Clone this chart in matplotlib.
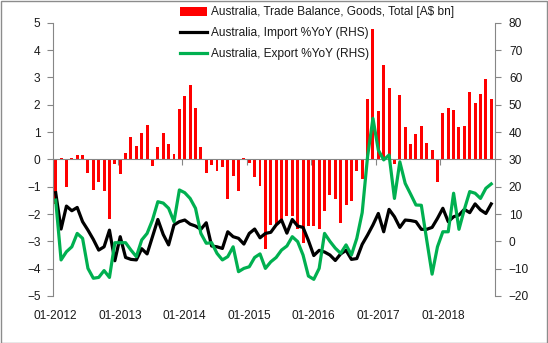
import matplotlib
matplotlib.use('Agg')
import matplotlib.pyplot as plt
from matplotlib.patches import Rectangle
import numpy as np

# Monthly series, Jan 2012 .. Oct 2018
trade_balance = [
    -1.65, 0.05, -1.00, 0.05, 0.16, 0.16, -0.49, -1.12, -0.82, -1.15, -2.17, -0.17,
    -0.54, 0.23, 0.82, 0.49, 0.96, 1.26, -0.23, 0.45, 0.96, 0.56, 0.20, 1.84,
    2.32, 2.72, 1.88, 0.45, -0.49, -0.21, -0.41, -0.27, -1.44, -0.60, -1.15, 0.05,
    -0.12, -0.63, -0.96, -3.27, -2.39, -2.38, -2.22, -2.07, -2.07, -2.54, -3.05, -2.44,
    -2.44, -2.54, -1.88, -1.29, -1.46, -2.32, -1.68, -1.52, -0.41, -0.72, 2.21, 4.76,
    1.78, 3.45, 2.61, -0.17, 2.35, 1.18, 0.56, 0.93, 1.22, 0.60, 0.34, -0.83,
    1.70, 1.88, 1.80, 1.18, 1.22, 2.46, 2.06, 2.39, 2.94, 2.21,
]
import_yoy = [
    17.8, 4.5, 12.9, 11.2, 12.4, 7.2, 4.1, 0.7, -3.2, -2.0, 4.1, -7.1,
    1.7, -5.9, -6.6, -6.8, -2.7, -4.6, 1.7, 8.0, 2.5, -1.3, 6.0, 7.2,
    7.8, 6.3, 5.6, 4.4, 6.8, -1.7, -2.0, -2.6, 3.5, 1.7, 1.1, -1.0,
    2.9, 4.5, 1.3, 2.9, 3.3, 6.0, 7.8, 3.0, 8.0, 5.6, 5.1, 0.3,
    -5.2, -3.3, -3.9, -5.0, -7.0, -4.6, -3.3, -6.6, -6.3, -1.1, 2.3, 6.0,
    10.2, 3.5, 11.7, 9.0, 5.1, 7.8, 7.6, 7.2, 4.4, 4.4, 5.1, 8.4,
    12.1, 7.2, 9.0, 9.6, 11.7, 10.5, 13.7, 11.5, 10.2, 13.7,
]
export_yoy = [
    15.1, -6.8, -3.8, -2.0, 2.9, 1.1, -9.9, -13.5, -13.2, -10.7, -13.2, -0.5,
    -0.5, -0.5, -3.2, -5.6, 0.5, 2.9, 7.8, 14.5, 14.0, 12.1, 7.2, 18.8,
    17.8, 15.7, 12.1, 2.9, -0.7, -0.5, -4.4, -6.8, -5.6, -2.0, -11.1, -9.9,
    -9.3, -5.9, -4.6, -9.9, -7.5, -5.9, -3.2, -1.7, 1.7, -0.1, -5.0, -12.7,
    -13.9, -9.9, 2.9, 0.0, -2.5, -4.4, -1.3, -5.0, 1.1, 10.5, 31.0, 45.0,
    33.4, 29.8, 31.6, 15.7, 29.1, 21.2, 17.3, 13.3, 13.2, 0.5, -12.0, -2.0,
    3.5, 3.5, 17.6, 4.4, 11.7, 18.2, 17.6, 15.7, 19.4, 21.0,
]
year_labels = ['01-2012', '01-2013', '01-2014', '01-2015', '01-2016', '01-2017', '01-2018']

plt.rcParams['font.family'] = ['Liberation Sans', 'DejaVu Sans']
FS = 8.6
TXT = '#1a1a1a'
GREY = '#868686'

fig = plt.figure(figsize=(5.48, 3.43), dpi=100)
ax = fig.add_axes([53 / 548, 1 - 296 / 343, 442 / 548, 273.3 / 343])
x = np.arange(len(trade_balance))

bars = ax.bar(x, trade_balance, width=0.55, color='#FF0000',
              label='Australia, Trade Balance, Goods, Total [A$ bn]')
ax.set_xlim(-0.5, 81.7)
ax.set_ylim(-5, 5)
ax.set_yticks(np.arange(-5, 6, 1))

for s in ['top', 'right']:
    ax.spines[s].set_visible(False)
ax.spines['bottom'].set_position(('data', 0))
ax.spines['bottom'].set_color(GREY)
ax.spines['left'].set_color(GREY)

# year boundary ticks on the zero line, labels drawn at the bottom
year_starts = np.arange(len(year_labels)) * 12
ax.set_xticks(year_starts[1:] - 0.5)
ax.set_xticklabels([])
ax.tick_params(axis='x', direction='out', length=4, color=GREY)
ax.tick_params(axis='y', direction='out', length=4, color=GREY,
               labelsize=FS, labelcolor=TXT, pad=5)

sec = ax.secondary_xaxis('bottom')
sec.set_xticks(year_starts, labels=year_labels)
sec.tick_params(length=0, pad=10, labelsize=FS, labelcolor=TXT)
sec.spines['bottom'].set_visible(False)

ax2 = ax.twinx()
l1, = ax2.plot(x, import_yoy, color='black', lw=2.3, label='Australia, Import %YoY (RHS)')
l2, = ax2.plot(x, export_yoy, color='#00B050', lw=2.3, label='Australia, Export %YoY (RHS)')
ax2.set_ylim(-20, 80)
ax2.set_yticks(np.arange(-20, 81, 10))
for s in ['top', 'left', 'bottom']:
    ax2.spines[s].set_visible(False)
ax2.spines['right'].set_color(GREY)
ax2.tick_params(axis='y', direction='out', length=4, color=GREY,
                labelsize=FS, labelcolor=TXT, pad=6)

ax2.legend(handles=[bars, l1, l2], loc='upper left',
           bbox_to_anchor=(180 / 548, 1 - 6.5 / 343), bbox_transform=fig.transFigure,
           frameon=False, borderpad=0, borderaxespad=0, fontsize=FS,
           handlelength=2.3, handletextpad=0.3, labelspacing=0.74,
           labelcolor=TXT)

fig.add_artist(Rectangle((0.5 / 548, 0.5 / 343), 546.5 / 548, 341.5 / 343,
                         transform=fig.transFigure, fill=False,
                         edgecolor='#8c8c8c', lw=1))

fig.savefig('out.png', dpi=100)
